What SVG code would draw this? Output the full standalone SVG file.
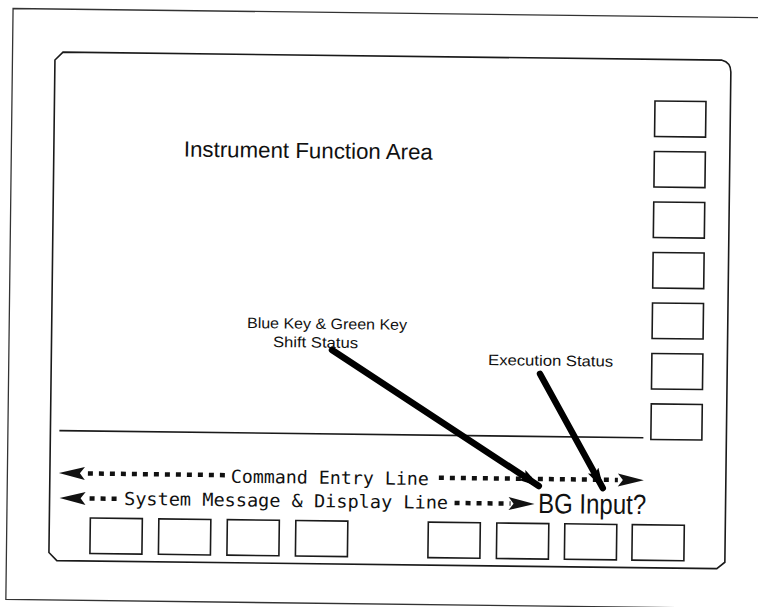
<svg xmlns="http://www.w3.org/2000/svg" width="758" height="607" viewBox="0 0 758 607">
<style>
.frame{fill:none;stroke:#1a1a1a;stroke-width:1.6;stroke-linejoin:miter}
.outer{fill:none;stroke:#333;stroke-width:1.3}
.key{fill:#fff;stroke:#1a1a1a;stroke-width:1.6}
.sans{font-family:"Liberation Sans",Arial,sans-serif;fill:#111}
.mono{font-family:"DejaVu Sans Mono","Liberation Mono",monospace;fill:#111}
.dots{stroke:#111;stroke-width:4.5;stroke-dasharray:5 6;fill:none}
.ah{fill:#111}
.conn{stroke:#000;stroke-width:6.5;fill:none;stroke-linecap:round}
</style>
<defs>
<marker id="arr" viewBox="0 0 22 12" refX="20" refY="6" markerWidth="22" markerHeight="12" markerUnits="userSpaceOnUse" orient="auto">
<path d="M0,0 L22,6 L0,12 L4,6 Z" fill="#000"/>
</marker>
</defs>
<rect width="758" height="607" fill="#fff"/>
<g transform="rotate(0.7 379 303)">
<g id="outer-frame"><path class="outer" d="M790,13 L9.5,13 L9.5,604 L800,604"/></g>
<g id="screen"><path class="frame" d="M60,56 L719,56 Q728,58 728,68 L728,558 L720,564.5 L60,564.5 L52,556.5 L52,64 Z"/></g>
<g id="divider"><line class="frame" x1="61" y1="434.5" x2="645" y2="434.5"/></g>
<g id="softkeys-right">
<rect class="key" x="652.5" y="97.6" width="51" height="35.5"/>
<rect class="key" x="652.5" y="148.1" width="51" height="35.5"/>
<rect class="key" x="652.5" y="198.6" width="51" height="35.5"/>
<rect class="key" x="652.5" y="249.1" width="51" height="35.5"/>
<rect class="key" x="652.5" y="299.6" width="51" height="35.5"/>
<rect class="key" x="652.5" y="350.1" width="51" height="35.5"/>
<rect class="key" x="652.5" y="400.6" width="51" height="35.5"/>
</g>
<g id="softkeys-bottom">
<rect class="key" x="93" y="521.5" width="52" height="35.5"/>
<rect class="key" x="161.5" y="521.5" width="52" height="35.5"/>
<rect class="key" x="230" y="521.5" width="52" height="35.5"/>
<rect class="key" x="298.5" y="521.5" width="52" height="35.5"/>
<rect class="key" x="431" y="521.5" width="52" height="35.5"/>
<rect class="key" x="499.5" y="521.5" width="52" height="35.5"/>
<rect class="key" x="567.5" y="521.5" width="52" height="35.5"/>
<rect class="key" x="635" y="521.5" width="52" height="35.5"/>
</g>
<g id="function-area"><text class="sans" x="182" y="159" font-size="22" textLength="249" lengthAdjust="spacingAndGlyphs">Instrument Function Area</text></g>
<g id="shift-status-label">
<text class="sans" x="247.3" y="329.6" font-size="15" textLength="160" lengthAdjust="spacingAndGlyphs">Blue Key &amp; Green Key</text>
<text class="sans" x="273.5" y="348.3" font-size="15" textLength="85" lengthAdjust="spacingAndGlyphs">Shift Status</text>
</g>
<g id="execution-status-label"><text class="sans" x="488.8" y="363.7" font-size="15" textLength="125" lengthAdjust="spacingAndGlyphs">Execution Status</text></g>
<g id="command-entry-line">
<path class="ah" d="M61,477 L87,470.5 L82,477 L87,483.5 Z"/>
<line class="dots" x1="90" y1="477" x2="227" y2="477"/>
<text class="mono" x="233" y="484.5" font-size="18" textLength="198" lengthAdjust="spacingAndGlyphs">Command Entry Line</text>
<line class="dots" x1="441" y1="477" x2="620" y2="477"/>
<path class="ah" d="M646,477 L620,470.5 L625,477 L620,483.5 Z"/>
</g>
<g id="system-message-line">
<path class="ah" d="M62,502 L88,495.5 L83,502 L88,508.5 Z"/>
<line class="dots" x1="92" y1="502" x2="120" y2="502"/>
<text class="mono" x="126.5" y="508" font-size="18" textLength="324" lengthAdjust="spacingAndGlyphs">System Message &amp; Display Line</text>
<line class="dots" x1="457" y1="502" x2="513" y2="502"/>
<path class="ah" d="M537,502 L511,495.5 L516,502 L511,508.5 Z"/>
</g>
<g id="bg-input"><text class="sans" x="540.6" y="511" font-size="28" textLength="108" lengthAdjust="spacingAndGlyphs">BG Input?</text></g>
<g id="connectors">
<line class="conn" x1="332.6" y1="350.6" x2="541" y2="484" marker-end="url(#arr)"/>
<line class="conn" x1="540.9" y1="372" x2="605" y2="485.3" marker-end="url(#arr)"/>
</g>
</g>
</svg>
